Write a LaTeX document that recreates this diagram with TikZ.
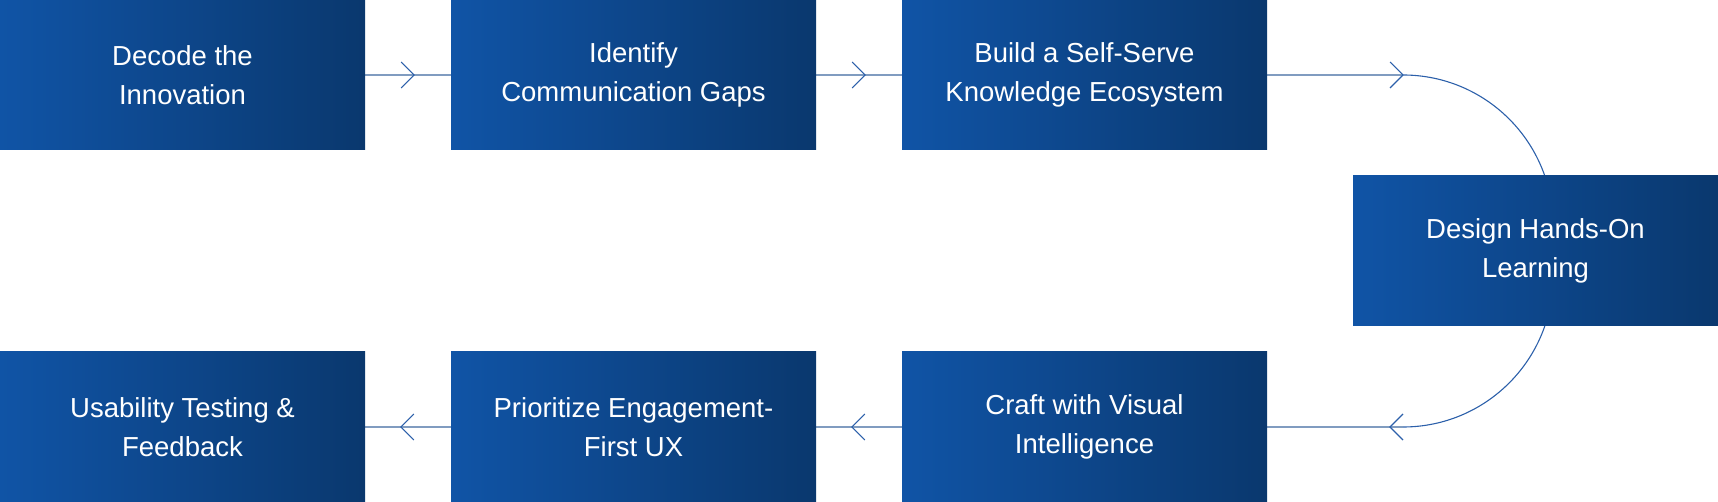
\documentclass[tikz,border=0pt]{standalone}
\usepackage{fontspec}
\setmainfont{Liberation Sans}
\usetikzlibrary{backgrounds,decorations.markings}

\definecolor{boxL}{RGB}{16,84,166}
\definecolor{boxR}{RGB}{10,56,110}
\definecolor{lineC}{RGB}{128,156,192}
\definecolor{tipC}{RGB}{44,96,170}

\tikzset{
  stage/.style={rectangle, minimum width=365pt, minimum height=150pt, inner sep=0pt,
    left color=boxL, right color=boxR, draw=none, text=white, align=center,
    font=\fontsize{27.5}{39}\selectfont},
  link/.style={draw=lineC, line width=1.6pt},
  bendline/.style={draw=tipC, line width=1.1pt},
  chevron/.style={draw=tipC, line width=1.1pt},
  tipat/.style={postaction={decorate}, decoration={markings,
    mark=at position #1 with {\draw[chevron] (-13pt,13pt) -- (0pt,0pt) -- (-13pt,-13pt);}}},
}

\begin{document}
\begin{tikzpicture}[x=1pt,y=1pt]
  \useasboundingbox (0,0) rectangle (1718,502);

  % process steps
  \node[stage] (s1) at (182.5,427)  {Decode the\\Innovation};
  \node[stage] (s2) at (633.5,427)  {Identify\\Communication Gaps};
  \node[stage] (s3) at (1084.5,427) {Build a Self-Serve\\Knowledge Ecosystem};
  \node[stage] (s4) at (1535.5,251) {Design Hands-On\\Learning};
  \node[stage] (s5) at (1084.5,75)  {Craft with Visual\\Intelligence};
  \node[stage] (s6) at (633.5,75)   {Prioritize Engagement-\\First UX};
  \node[stage] (s7) at (182.5,75)   {Usability Testing \&\\Feedback};

  % turning points of the curved connectors
  \coordinate (t1) at (1403,427);
  \coordinate (a2) at (1553,225);
  \coordinate (t2) at (1403,75);

  \begin{pgfonlayer}{background}
    \draw[link, tipat=49pt] (s1.east) -- (s2.west);
    \draw[link, tipat=49pt] (s2.east) -- (s3.west);
    \draw[link] (s3.east) -- (t1);
    \draw[bendline] (t1) arc[start angle=90, end angle=0, radius=150pt];
    \draw[chevron] (t1) -- ++(-13,13) (t1) -- ++(-13,-13);
    \draw[bendline] (a2) arc[start angle=0, end angle=-90, radius=150pt];
    \draw[link, tipat=13pt] (t2) -- (s5.east);
    \draw[link, tipat=50pt] (s5.west) -- (s6.east);
    \draw[link, tipat=50pt] (s6.west) -- (s7.east);
  \end{pgfonlayer}
\end{tikzpicture}
\end{document}
